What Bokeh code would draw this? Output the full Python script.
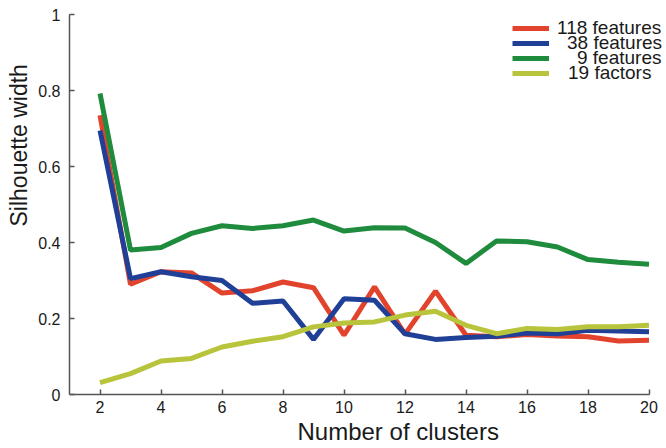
from bokeh.plotting import figure
from bokeh.models import FixedTicker, Legend, LegendItem, Title, Range1d
from bokeh.embed import file_html
from bokeh.resources import INLINE

# ---- data ----
clusters = list(range(2, 21))
feat118 = [0.735, 0.29, 0.323, 0.32, 0.267, 0.273, 0.296, 0.281, 0.156, 0.283,
           0.159, 0.272, 0.156, 0.152, 0.158, 0.154, 0.152, 0.141, 0.143]
feat38 = [0.695, 0.305, 0.323, 0.31, 0.30, 0.24, 0.246, 0.145, 0.252, 0.248,
          0.16, 0.145, 0.15, 0.153, 0.162, 0.16, 0.169, 0.167, 0.165]
feat9 = [0.792, 0.38, 0.387, 0.424, 0.444, 0.437, 0.444, 0.459, 0.43, 0.439,
         0.438, 0.40, 0.345, 0.404, 0.402, 0.388, 0.355, 0.348, 0.343]
fact19 = [0.031, 0.055, 0.088, 0.095, 0.125, 0.14, 0.152, 0.178, 0.188, 0.191,
          0.209, 0.219, 0.182, 0.16, 0.174, 0.171, 0.178, 0.178, 0.182]
series_names = ["118 features", "38 features", "9 features", "19 factors"]
series_colors = ["#e2432c", "#203f97", "#1e8b3d", "#b8c43b"]
x_ticks = [2, 4, 6, 8, 10, 12, 14, 16, 18, 20]
x_tick_labels = ["2", "4", "6", "8", "10", "12", "14", "16", "18", "20"]
y_ticks = [0, 0.2, 0.4, 0.6, 0.8, 1]
y_tick_labels = ["0", "0.2", "0.4", "0.6", "0.8", "1"]
x_title = "Number of clusters"
y_title = "Silhouette width"

FONT = "Liberation Sans"

# frame spans the whole right/top of the canvas so the legend is not clipped;
# the axes themselves are bounded to the data domain
X_LO, X_HI = 1, 20
Y_LO, Y_HI = 0, 1
PX_PER_X = 30.5
PX_PER_Y = 380.0
p = figure(width=666, height=448, output_backend="svg", toolbar_location=None,
           x_range=Range1d(X_LO, X_HI + 17.5 / PX_PER_X),
           y_range=Range1d(Y_LO, Y_HI + 14 / PX_PER_Y),
           min_border_left=69, min_border_right=0, min_border_top=0,
           min_border_bottom=54)
p.outline_line_color = None
p.xgrid.visible = False
p.ygrid.visible = False
p.background_fill_color = "white"

renderers = []
for ys, c in zip([feat118, feat38, feat9, fact19], series_colors):
    r = p.line(clusters, ys, line_color=c, line_width=5)
    renderers.append(r)

for ax, ticks, labels, bnds in [(p.xaxis[0], x_ticks, x_tick_labels, (X_LO, X_HI)),
                                (p.yaxis[0], y_ticks, y_tick_labels, (Y_LO, Y_HI))]:
    ax.ticker = FixedTicker(ticks=ticks)
    ax.bounds = bnds
    ax.major_label_overrides = {t: l for t, l in zip(ticks, labels)}
    ax.axis_line_color = "#555555"
    ax.axis_line_width = 1.5
    ax.major_tick_line_color = "#555555"
    ax.major_tick_line_width = 1.5
    ax.major_tick_in = 5
    ax.major_tick_out = 0
    ax.minor_tick_line_color = None
    ax.major_label_text_font = FONT
    ax.major_label_text_font_size = "16px"
    ax.major_label_text_color = "#1a1a1a"

p.xaxis.major_label_standoff = 6
p.yaxis.major_label_standoff = 9

xt = Title(text=x_title, align="left", offset=228, text_font=FONT,
           text_font_size="24px", text_font_style="normal", text_color="#1a1a1a",
           standoff=0)
yt = Title(text=y_title, align="left", offset=168, text_font=FONT,
           text_font_size="23px", text_font_style="normal", text_color="#1a1a1a",
           standoff=7)
p.add_layout(xt, "below")
p.add_layout(yt, "left")

# one small legend per row, so rows can sit 15px apart as in the reference
row_bottoms = [355, 340, 325, 310]
label_offsets = [8, 18, 28, 19]
for n, r, vy, so in zip(series_names, renderers, row_bottoms, label_offsets):
    lg = Legend(items=[LegendItem(label=n, renderers=[r])],
                location=(443, vy), background_fill_alpha=0, border_line_color=None,
                padding=0, margin=0, spacing=0, glyph_width=37, glyph_height=22,
                label_height=22, label_standoff=so, label_text_font=FONT,
                label_text_font_size="19px", label_text_color="#1a1a1a",
                label_text_baseline="middle")
    p.add_layout(lg)

open("out.html", "w").write(file_html(p, INLINE))
